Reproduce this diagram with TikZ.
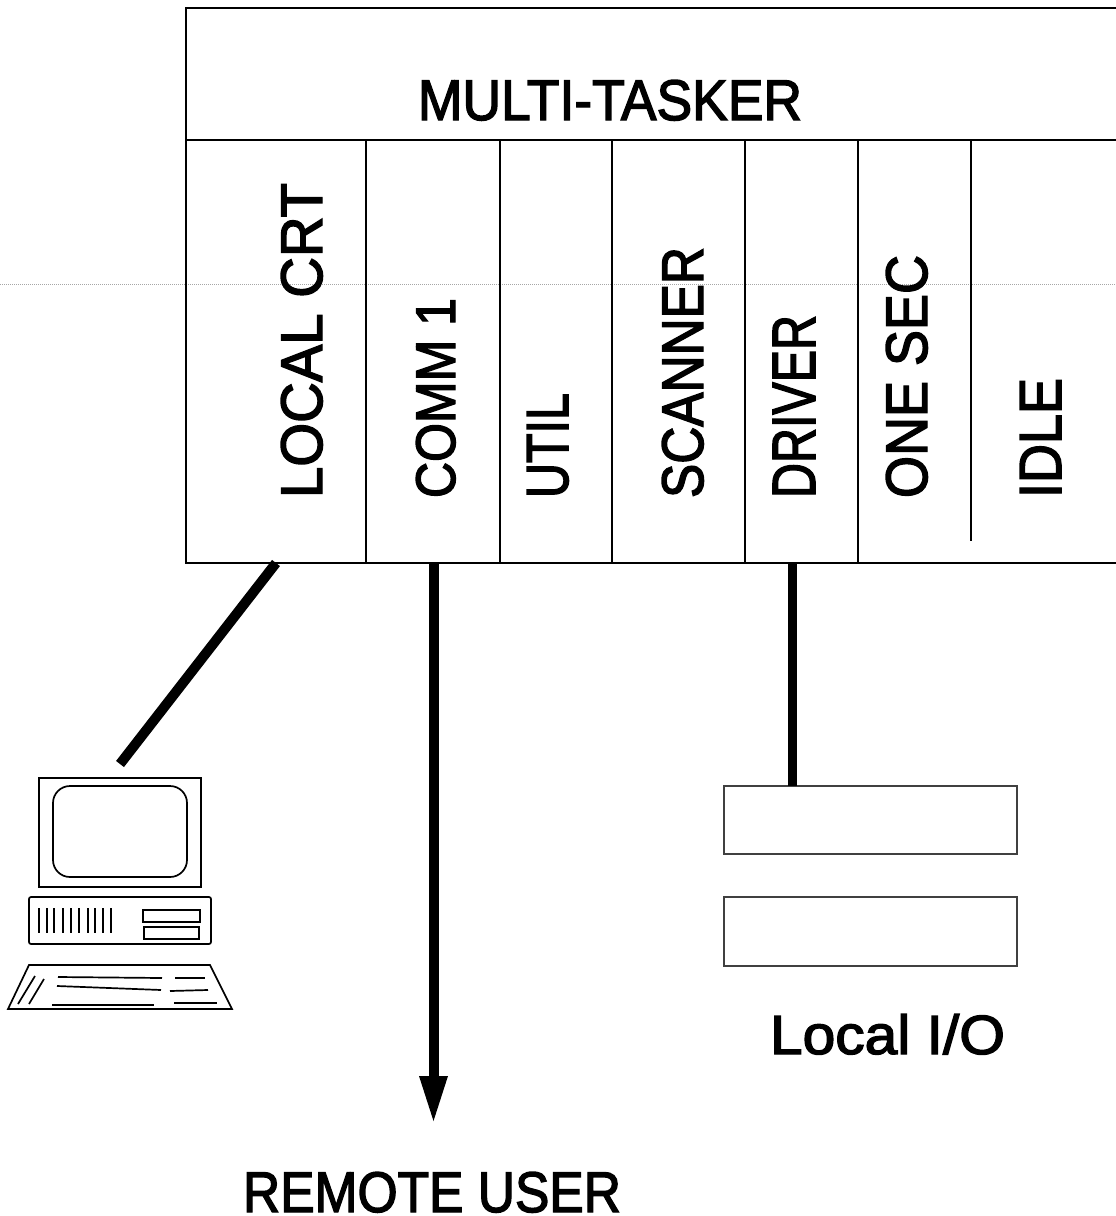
\documentclass[tikz,border=0pt]{standalone}
\usepackage{fontspec}
\setmainfont[FakeBold=2.5]{Liberation Sans}
\usepackage{graphicx}
\newcommand{\fit}[3]{\resizebox{#1pt}{#2pt}{\fontsize{40}{48}\selectfont #3}}
\tikzset{
  box/.style={draw=black!75,line width=1.3pt,inner sep=0pt,outer sep=0pt,anchor=north west},
  rule/.style={draw=black,line width=1.7pt},
  heavy/.style={draw=black,line width=9pt},
  lbl/.style={inner sep=0pt,outer sep=0pt,anchor=base west,text=black},
  vlbl/.style={inner sep=0pt,outer sep=0pt,anchor=base west,rotate=90,text=black},
  thin/.style={draw=black,line width=1.7pt},
}
\begin{document}
\begin{tikzpicture}[x=1pt,y=-1pt]
\useasboundingbox[fill=white] (0,0) rectangle (1116,1216);
\draw[gray!70,line width=1pt,densely dotted] (0,284) -- (1116,284);
% frame
\coordinate (tl) at (186,8);
\coordinate (tr) at (1116,8);
\coordinate (ml) at (186,140);
\coordinate (mr) at (1116,140);
\coordinate (bl) at (186,563);
\coordinate (br) at (1116,563);
\draw[rule] (tr) -- (tl) -- (bl) -- (br);
\draw[rule] (ml) -- (mr);
\foreach \x in {366,500,612,745,858} \draw[rule] (\x,140) -- (\x,563);
\draw[rule] (971,140) -- (971,541);
% labels
\node[lbl] (multi) at (418,120) {\fit{384}{40}{MULTI-TASKER}};
\node[vlbl] (crt) at (322,498) {\fit{315}{41}{LOCAL CRT}};
\node[vlbl] (comm) at (455,498) {\fit{200}{39}{COMM 1}};
\node[vlbl] (util) at (568,498) {\fit{105}{41}{UTIL}};
\node[vlbl] (scan) at (703,498) {\fit{251}{41}{SCANNER}};
\node[vlbl] (driver) at (815,498) {\fit{183}{42}{DRIVER}};
\node[vlbl] (onesec) at (927,498) {\fit{243}{41}{ONE SEC}};
\node[vlbl] (idle) at (1061,498) {\fit{120}{41}{IDLE}};
% computer
\node[box,draw=black,line width=1.7pt,minimum width=162pt,minimum height=109pt] (monitor) at (39,778) {};
\draw[thin,rounded corners=17pt] (53,786) rectangle (187,877);
\node[box,draw=black,line width=1.7pt,minimum width=182pt,minimum height=47pt,rounded corners=2pt] (case) at (29,897) {};
\foreach \x in {39,47,54,63,71,79,88,95,103,111} \draw[thin] (\x,908) -- (\x,933);
\draw[thin] (143,910) rectangle (200,922);
\draw[thin] (144,927) rectangle (199,939);
\draw[thin] (29,965) -- (210,965) -- (232,1009) -- (8,1009) -- cycle;
\draw[thin] (18,1004) -- (35,976);
\draw[thin] (29,1004) -- (44,979);
\draw[thin] (58,977) -- (162,978);
\draw[thin] (175,978) -- (205,978);
\draw[thin] (57,986) -- (161,990);
\draw[thin] (170,991) -- (208,990);
\draw[thin] (52,1005) -- (154,1005);
\draw[thin] (174,1003) -- (217,1003);
% local io
\node[box,minimum width=293pt,minimum height=68pt] (io1) at (724,786) {};
\node[box,minimum width=293pt,minimum height=69pt] (io2) at (724,897) {};
\node[lbl] (localio) at (770,1054) {\fit{235}{40}{Local I/O}};
\node[lbl] (remote) at (243,1212) {\fit{378}{40}{REMOTE USER}};
% connectors
\coordinate (crtfoot) at (276,563);
\coordinate (pc) at (120,764);
\draw[draw=black,line width=10pt] (crtfoot) -- (pc);
\coordinate (drvfoot) at (792,563);
\coordinate (iotop) at (792,786);
\draw[heavy] (drvfoot) -- (iotop);
\coordinate (commfoot) at (433.5,563);
\coordinate (arrowbase) at (433.5,1078);
\coordinate (arrowtip) at (433.5,1121);
\draw[draw=black,line width=10pt] (commfoot) -- (arrowbase);
\fill[black] (419,1076) -- (448,1076) -- (arrowtip) -- cycle;
\end{tikzpicture}
\end{document}
